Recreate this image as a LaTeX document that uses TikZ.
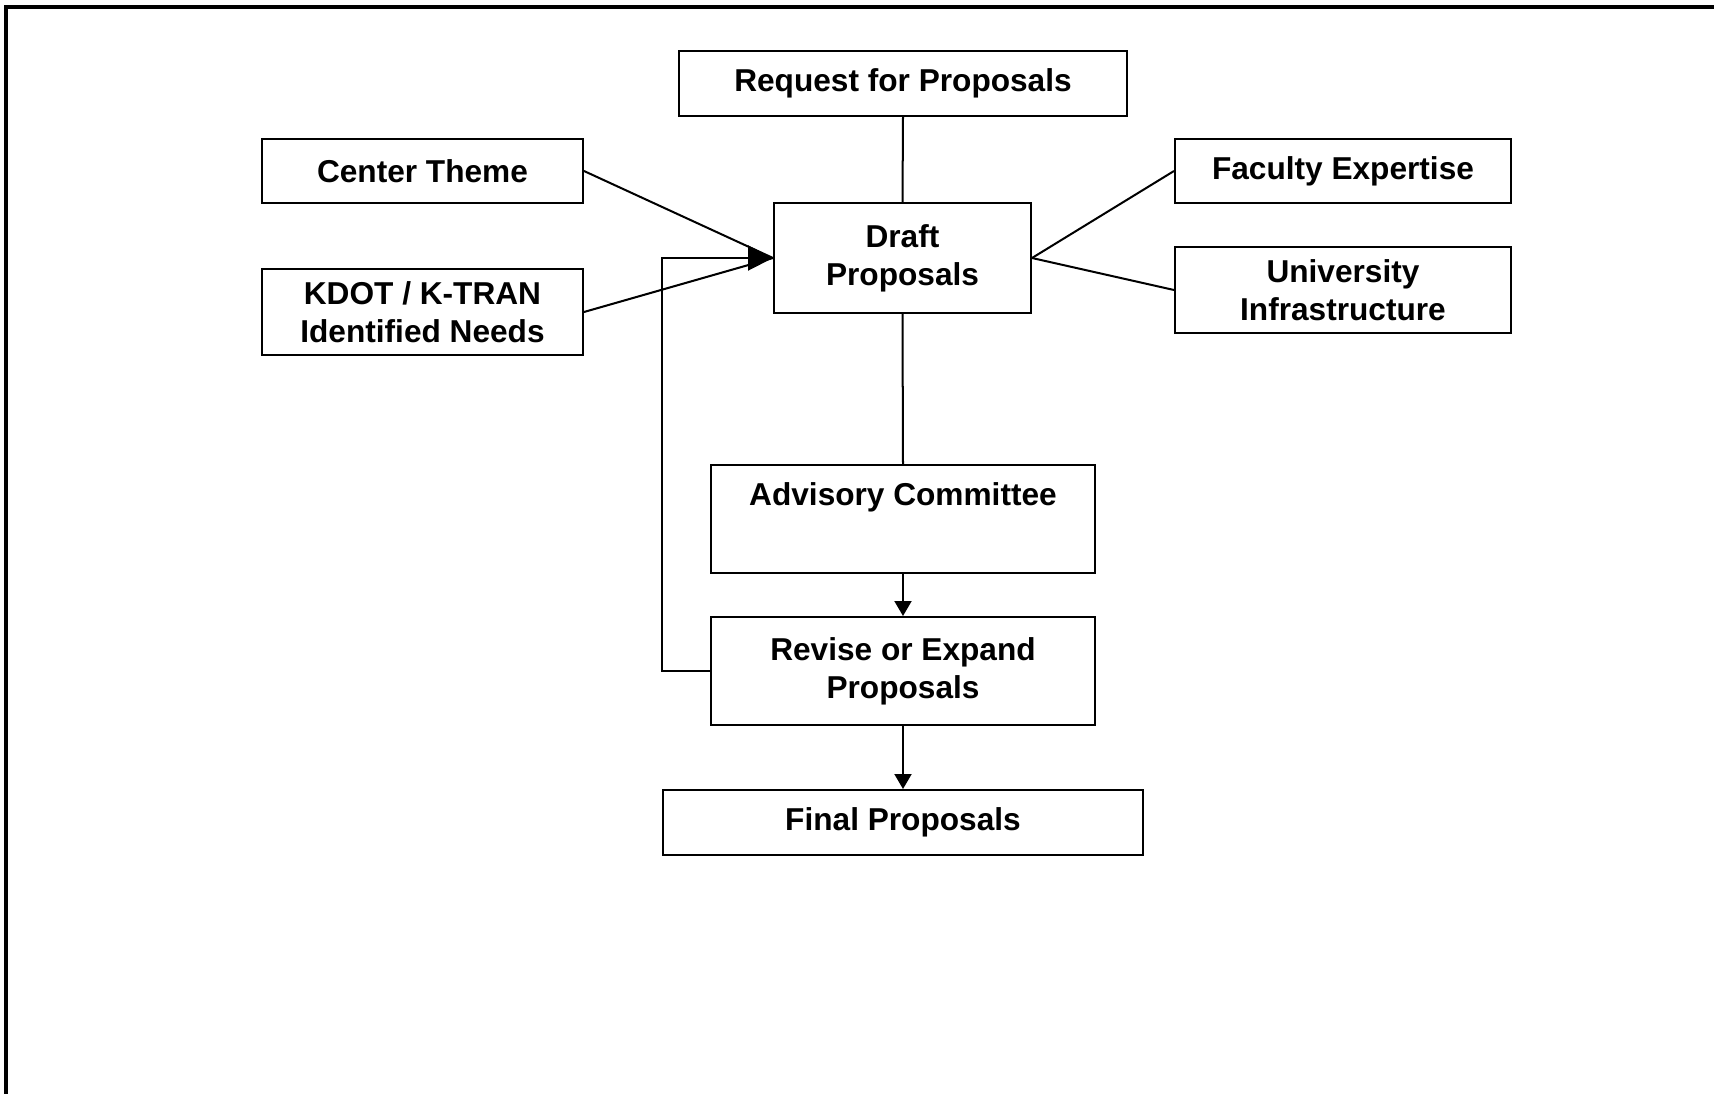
\documentclass[tikz,border=0pt]{standalone}
\usepackage{fontspec}
\setmainfont{Liberation Sans}
\usetikzlibrary{arrows.meta}

\tikzset{every path/.style={line width=0.57pt}}
\tikzset{box/.style={draw, inner sep=0pt, align=center, font=\fontsize{9}{10.8}\selectfont\bfseries}}
\tikzset{bighead/.style={-{Triangle[length=0.25cm,width=0.25cm]}}}
\tikzset{smallhead/.style={-{Triangle[length=0.15cm,width=0.17cm]}}}

\begin{document}
\begin{tikzpicture}
\useasboundingbox (0,0) rectangle (17.14,-10.94);
\draw[line width=1.14pt] (0.06,-10.94) -- (0.06,-0.07) -- (17.14,-0.07);

\node[box, minimum width=4.48cm, minimum height=0.65cm] (req) at (9.03,-0.835) {Request for Proposals};
\node[box, minimum width=3.21cm, minimum height=0.64cm] (ctheme) at (4.225,-1.71) {Center Theme};
\node[box, minimum width=2.57cm, minimum height=1.10cm] (draft) at (9.025,-2.58) {Draft\\Proposals};
\node[box, minimum width=3.36cm, minimum height=0.64cm] (faculty) at (13.43,-1.71) {Faculty Expertise};
\node[box, minimum width=3.21cm, minimum height=0.86cm] (kdot) at (4.225,-3.12) {KDOT / K-TRAN\\Identified Needs};
\node[box, minimum width=3.36cm, minimum height=0.86cm] (univ) at (13.43,-2.90) {University\\Infrastructure};
\node[box, minimum width=3.84cm, minimum height=1.08cm] (advisory) at (9.03,-5.19) {Advisory Committee\\\strut};
\node[box, minimum width=3.84cm, minimum height=1.08cm] (revise) at (9.03,-6.71) {Revise or Expand\\Proposals};
\node[box, minimum width=4.80cm, minimum height=0.65cm] (final) at (9.03,-8.225) {Final Proposals};

\draw (req.south) -- (draft.north);
\draw (ctheme.east) -- (draft.west);
\draw (kdot.east) -- (draft.west);
\draw (draft.east) -- (faculty.west);
\draw (draft.east) -- (univ.west);
\draw (draft.south) -- (advisory.north);
\draw[bighead] (revise.west) -- ++(-0.48,0) |- (draft.west);
\draw[smallhead] (advisory.south) -- (revise.north);
\draw[smallhead] (revise.south) -- (final.north);
\end{tikzpicture}
\end{document}
